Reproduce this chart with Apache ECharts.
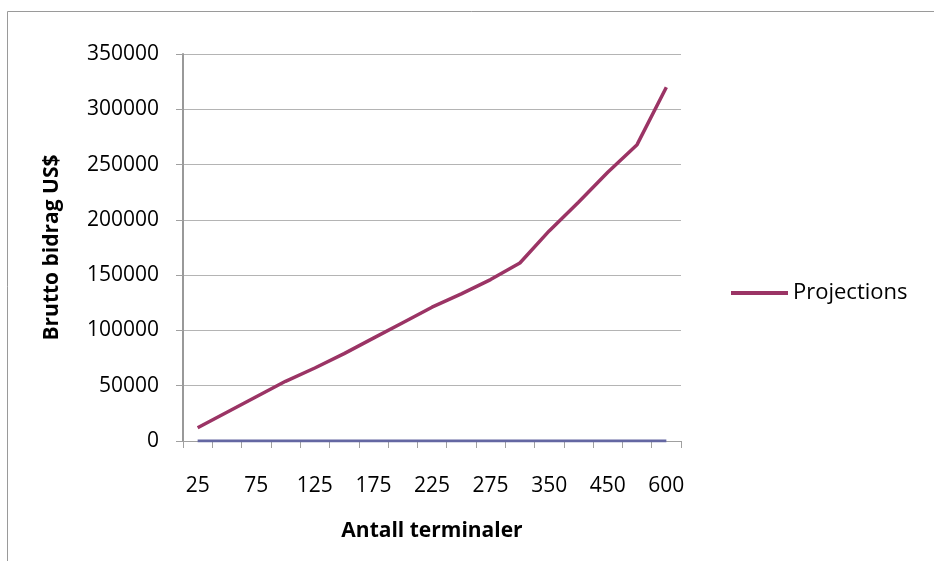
<!DOCTYPE html>
<html>
<head>
<meta charset="utf-8">
<script src="https://cdn.jsdelivr.net/npm/echarts@6/dist/echarts.min.js"></script>
<style>
  html, body { margin: 0; padding: 0; background: #fff; }
  #chart { width: 934px; height: 561px; }
</style>
</head>
<body>
<div id="chart"></div>
<script>
// terminal counts on the x axis
const categories = ['25', '50', '75', '100', '125', '150', '175', '200', '225', '250', '275', '300', '350', '400', '450', '500', '600']
// gross contribution
const projections = [12000, 26000, 40000, 54000, 66000, 79000, 93000, 107000, 121000, 133000, 146000, 161000, 190000, 216000, 243000, 268000, 320000]
// flat series along zero (no legend entry)
const baseline = [0, 0, 0, 0, 0, 0, 0, 0, 0, 0, 0, 0, 0, 0, 0, 0, 0]

const font = 'Open Sans, Liberation Sans, sans-serif'

var myChart = echarts.init(document.getElementById('chart'))
myChart.setOption({
  animation: false,
  textStyle: { fontFamily: font, color: '#000' },
  graphic: [{
    type: 'rect',
    shape: { x: 7.5, y: 11.5, width: 1000, height: 1000 },
    style: { fill: 'none', stroke: '#9a9a9a', lineWidth: 1 },
    silent: true
  }],
  grid: { left: 183, top: 54, right: 253, bottom: 120 },
  legend: {
    data: ['Projections'],
    left: 731,
    top: 282,
    padding: 0,
    icon: 'rect',
    itemWidth: 57,
    itemHeight: 4,
    itemGap: 6,
    textStyle: { fontSize: 22, fontFamily: font, color: '#000' }
  },
  xAxis: {
    type: 'category',
    data: categories,
    boundaryGap: true,
    name: 'Antall terminaler',
    nameLocation: 'middle',
    nameGap: 80,
    nameTextStyle: { fontSize: 21, fontWeight: 'bold', color: '#000' },
    axisLine: { lineStyle: { color: '#a0a0a0', width: 1 } },
    axisTick: { show: true, interval: 0, length: 7, lineStyle: { color: '#a0a0a0' } },
    axisLabel: { interval: 1, margin: 35, fontSize: 21, color: '#000' },
    splitLine: { show: false }
  },
  yAxis: {
    type: 'value',
    min: 0,
    max: 350000,
    interval: 50000,
    name: 'Brutto bidrag US$',
    nameLocation: 'middle',
    nameGap: 120,
    nameTextStyle: { fontSize: 21, fontWeight: 'bold', color: '#000' },
    axisLine: { show: true, lineStyle: { color: '#999999', width: 2 } },
    axisTick: { show: true, length: 7, lineStyle: { color: '#a0a0a0' } },
    axisLabel: { margin: 24, fontSize: 21, color: '#000', formatter: (v) => String(v) },
    splitLine: { lineStyle: { color: '#b4b4b4', width: 1 } }
  },
  series: [
    {
      name: 'Base',
      type: 'line',
      data: baseline,
      symbol: 'none',
      lineStyle: { color: '#6467a2', width: 3 },
      itemStyle: { color: '#6467a2' }
    },
    {
      name: 'Projections',
      type: 'line',
      data: projections,
      symbol: 'none',
      lineStyle: { color: '#9b3465', width: 3.5 },
      itemStyle: { color: '#9b3465' }
    }
  ]
})
</script>
</body>
</html>
